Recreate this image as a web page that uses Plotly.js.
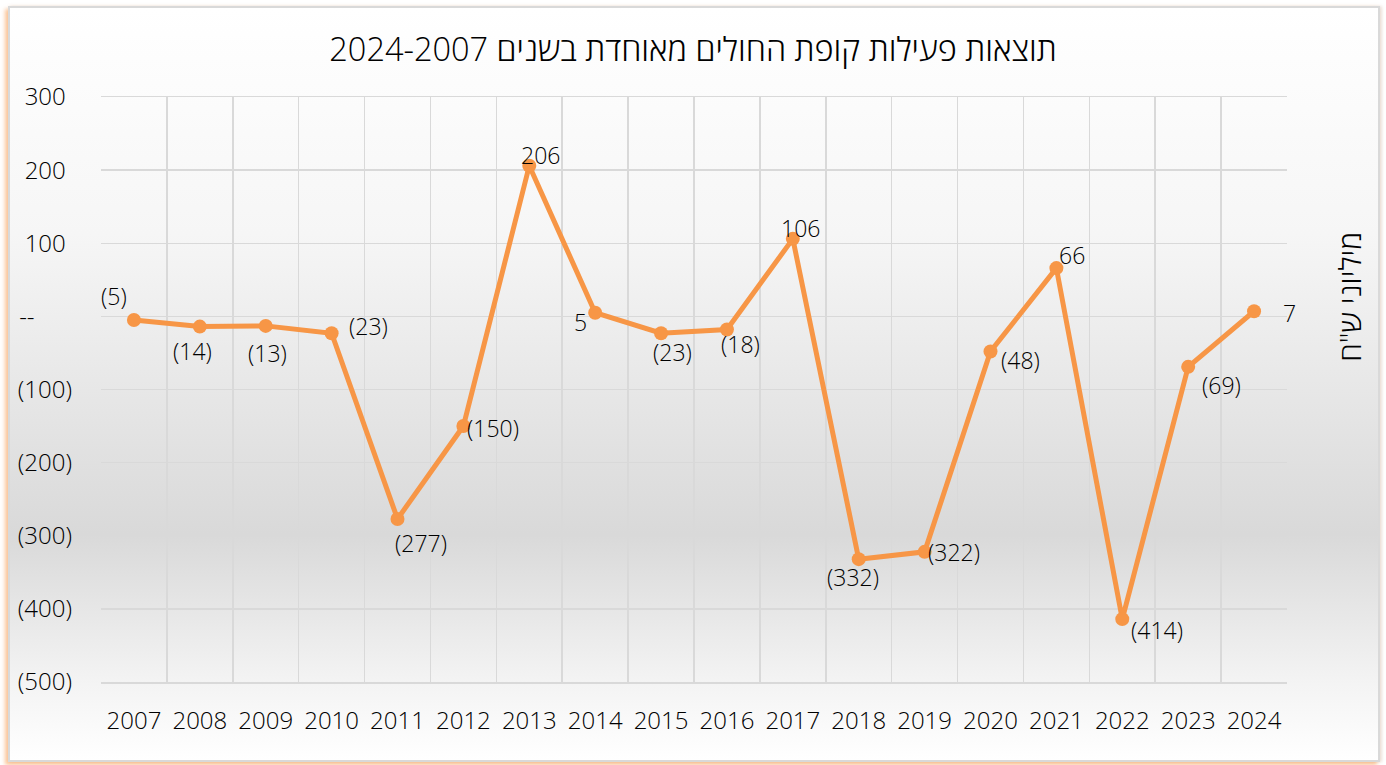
<!DOCTYPE html>
<html>
<head>
<meta charset="utf-8">
<script src="https://cdn.plot.ly/plotly-3.0.1.min.js"></script>
<style>
  html, body { margin: 0; padding: 0; background: #ffffff; }
  #frame {
    position: absolute; left: 8px; top: 6px; width: 1368px; height: 752px;
    border: 2px solid #d9d9d9;
    background: linear-gradient(to bottom, #ffffff 0%, #f6f6f6 30%, #e4e4e4 55%, #d9d9d9 70%, #f4f4f4 90%, #ffffff 100%);
    box-shadow: -3px 3px 4px rgba(247,150,70,0.55), 2px 0px 3px rgba(200,170,150,0.35);
  }
  #chart { position: absolute; left: 0; top: 0; width: 1386px; height: 765px; }
</style>
</head>
<body>
<div id="frame"></div>
<div id="chart"></div>
<script>
// Data
const years = ["2007","2008","2009","2010","2011","2012","2013","2014","2015","2016","2017","2018","2019","2020","2021","2022","2023","2024"];
const results = [-5, -14, -13, -23, -277, -150, 206, 5, -23, -18, 106, -332, -322, -48, 66, -414, -69, 7];
const yTickVals = [300, 200, 100, 0, -100, -200, -300, -400, -500];
const yTickText = ["300\u00a0", "200\u00a0", "100\u00a0", "--\u00a0\u00a0\u00a0\u00a0\u00a0\u00a0", "(100)", "(200)", "(300)", "(400)", "(500)"];
const chartTitle = "תוצאות פעילות קופת החולים מאוחדת בשנים 2024-2007";
const yTitle = "מיליוני ש\"ח";

// Label offsets in pixels (styling): [dx, dy] with dy downward
const labelOffsets = [[-20,-24],[-7,24],[2,27],[37,-7],[23,24],[30,2],[11,-11],[-15,9],[11,19],[14,14],[8,-11],[-6,18],[29,0],[30,9],[16,-13],[35,11],[33,18],[35,2]];

function fmt(v) { return v < 0 ? "(" + Math.abs(v) + ")" : String(v); }

const fontFam = '"Open Sans", "Noto Sans", sans-serif';
const txtColor = '#000000';

const trace = {
  type: 'scatter',
  mode: 'lines+markers',
  x: years,
  y: results,
  line: { color: '#F79646', width: 5 },
  marker: { color: '#F79646', size: 14 },
  cliponaxis: false,
  hoverinfo: 'x+y'
};

// category index i corresponds to years[i]
const labelAnns = years.map((yr, i) => ({
  x: i, y: results[i], xref: 'x', yref: 'y',
  text: fmt(results[i]),
  showarrow: false,
  xanchor: 'center', yanchor: 'middle',
  xshift: labelOffsets[i][0], yshift: -labelOffsets[i][1],
  font: { family: fontFam, size: 23, color: txtColor, weight: 300 }
}));

const layout = {
  width: 1386, height: 765,
  margin: { l: 101, r: 99, t: 97, b: 83 },
  paper_bgcolor: 'rgba(0,0,0,0)',
  plot_bgcolor: 'rgba(0,0,0,0)',
  font: { family: fontFam, color: txtColor, size: 24, weight: 300 },
  title: {
    text: chartTitle,
    font: { family: fontFam, size: 32.5, color: txtColor, weight: 300 },
    x: 0.5, xanchor: 'center',
    y: 1 - 50/765, yref: 'container', yanchor: 'middle'
  },
  showlegend: false,
  xaxis: {
    type: 'category',
    range: [-0.5, 17.5],
    tickson: 'boundaries',
    showgrid: true, gridcolor: '#d9d9d9', gridwidth: 1.5,
    showline: true, mirror: true, linecolor: '#d9d9d9', linewidth: 1.5,
    ticks: '', zeroline: false,
    ticklabelstandoff: 17,
    tickfont: { family: fontFam, size: 24, color: txtColor, weight: 300 },
    fixedrange: true
  },
  yaxis: {
    range: [-500, 300],
    tickvals: yTickVals,
    ticktext: yTickText,
    showgrid: true, gridcolor: '#d9d9d9', gridwidth: 1.5,
    zeroline: false,
    showline: false,
    ticks: '',
    ticklabelstandoff: 28,
    tickfont: { family: fontFam, size: 24, color: txtColor, weight: 300 },
    fixedrange: true
  },
  annotations: labelAnns.concat([{
    text: yTitle,
    xref: 'paper', yref: 'paper',
    x: 1.052, y: 0.658,
    xanchor: 'center', yanchor: 'middle',
    textangle: -90,
    showarrow: false,
    font: { family: fontFam, size: 30, color: txtColor, weight: 300 }
  }])
};

Plotly.newPlot('chart', [trace], layout, { displayModeBar: false, staticPlot: true });
</script>
</body>
</html>
